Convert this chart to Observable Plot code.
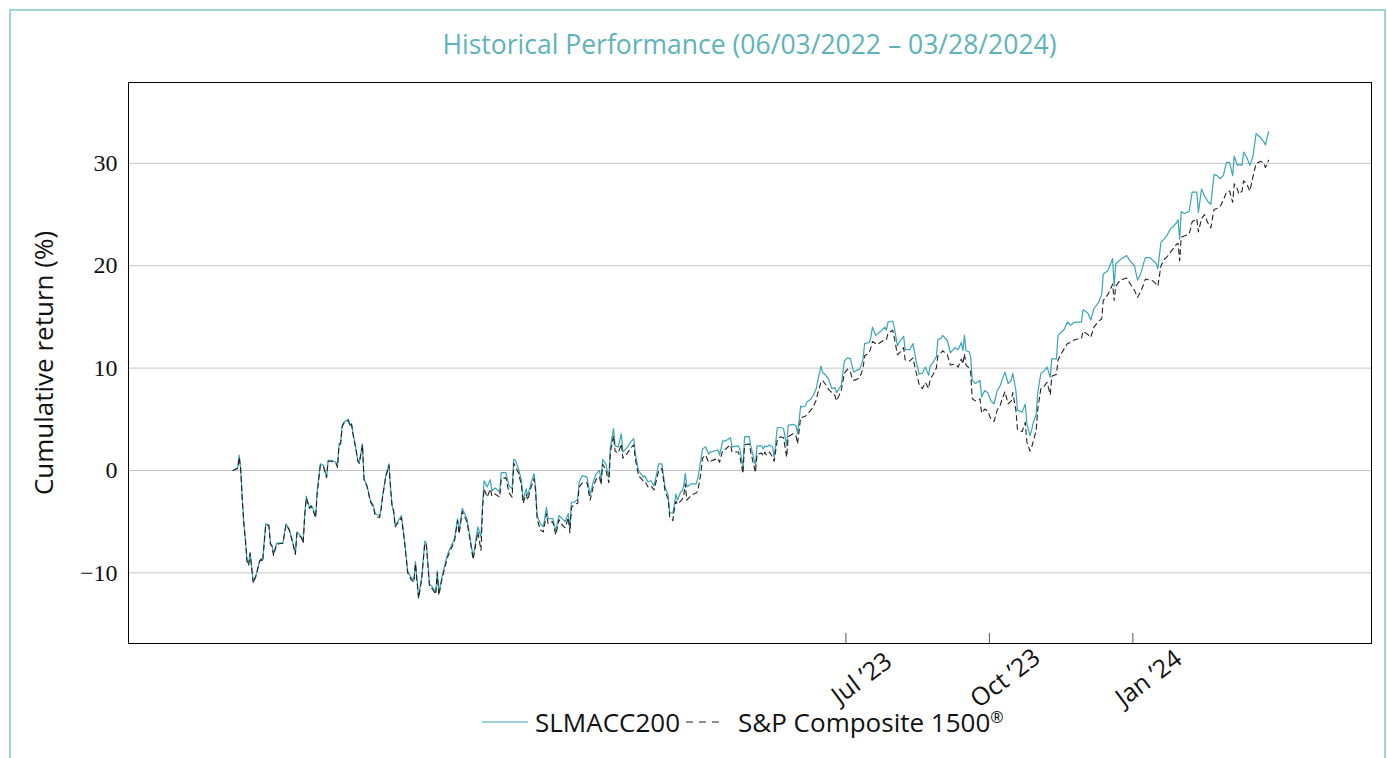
<!DOCTYPE html>
<html><head><meta charset="utf-8">
<script src="https://cdn.jsdelivr.net/npm/d3@7"></script>
<script src="https://cdn.jsdelivr.net/npm/@observablehq/plot@0.6"></script>
<style>
body{margin:0;background:#fff;width:1387px;height:758px;overflow:hidden;position:relative;font-family:"Open Sans",sans-serif;}
#box{position:absolute;left:9px;top:9px;width:1373px;height:800px;border:2px solid #9fd3d7;border-bottom:none;}
#title{position:absolute;left:128px;width:1243px;top:26px;text-align:center;font-size:26.5px;color:#5db3ba;line-height:36px;white-space:nowrap;}
#chart{position:absolute;left:0;top:60px;}
#ylabel{position:absolute;left:43px;top:363px;transform:translate(-50%,-50%) rotate(-90deg);font-size:26px;white-space:nowrap;color:#111;}
#legend{position:absolute;left:482px;top:704px;height:36px;display:flex;align-items:center;font-size:26px;color:#111;white-space:nowrap;}
#legend sup{font-size:16px;vertical-align:9px;}
</style>
</head><body>
<div id="box"></div>
<div id="title"></div>
<div id="ylabel"></div>
<div id="chart"></div>
<div id="legend"></div>
<script>
const titleText = "Historical Performance (06/03/2022 \u2013 03/28/2024)";
const yLabelText = "Cumulative return (%)";
const seriesNames = ["SLMACC200", "S&P Composite 1500"];
const startDate = "2022-06-03";
const yTicks = [-10, 0, 10, 20, 30];
const xTickDates = ["2023-07-01", "2023-10-01", "2024-01-01"];
const xTickLabels = ["Jul \u201923", "Oct \u201923", "Jan \u201924"];

// days since 2022-06-03
const dayOffsets = [0,3,4,5,6,7,8,9,10,11,13,15,17,18,19,21,23,24,25,26,28,32,34,36,38,40,41,44,45,46,47,49,50,51,53,54,56,58,60,61,63,66,67,68,69,70,71,74,75,76,77,79,80,81,83,84,86,88,90,91,92,94,95,96,98,100,101,102,103,104,108,110,112,114,116,117,119,121,123,124,126,128,130,131,132,134,137,138,142,144,145,147,150,152,154,157,159,160,161,163,165,166,168,171,172,175,177,179,180,181,183,185,186,188,189,191,193,194,195,197,199,201,202,205,207,209,211,213,215,216,217,219,221,222,224,227,229,231,233,235,236,237,239,241,242,244,245,247,249,250,253,255,257,258,260,263,264,266,268,270,273,275,277,279,280,282,283,284,285,287,288,289,290,291,294,297,298,300,301,303,305,306,311,312,314,316,318,319,320,324,325,327,328,331,332,335,336,339,340,341,342,344,346,347,349,351,353,355,356,359,361,362,364,365,367,368,370,372,374,375,377,378,380,382,384,386,387,390,392,394,396,397,398,400,402,404,405,408,409,410,412,413,416,418,419,420,423,424,426,428,430,431,434,436,438,440,442,444,446,447,449,451,452,454,455,458,460,463,465,467,468,469,470,472,473,474,476,479,480,482,484,486,488,490,492,493,495,497,499,500,502,503,506,508,509,511,512,513,515,516,518,520,522,524,525,528,529,531,533,535,537,540,544,545,548,550,552,555,557,558,561,562,564,565,566,569,573,575,578,580,582,584,585,588,590,592,593,595,597,599,601,602,605,606,607,608,610,613,614,615,618,619,621,623,625,627,629,631,633,635,637,639,641,642,644,645,647,648,650,652,654,656,659,661,662,664];

const slmacc = [0.0,0.3,1.5,0.0,-2.9,-5.2,-6.8,-8.8,-9.1,-8.0,-10.9,-10.1,-8.8,-8.6,-8.8,-5.2,-5.3,-7.1,-7.3,-8.2,-7.1,-7.1,-5.2,-5.7,-6.8,-8.1,-6.0,-6.5,-7.0,-4.2,-2.5,-3.6,-3.4,-3.6,-4.5,-2.0,0.65,0.5,-0.6,1.0,1.0,0.8,0.4,2.6,2.7,4.4,4.7,5.0,4.4,4.6,3.6,2.0,1.0,0.8,2.6,-0.8,-1.5,-2.9,-3.4,-4.1,-4.3,-4.4,-3.6,-2.4,-0.5,0.65,-1.6,-3.4,-3.9,-5.4,-4.4,-6.8,-9.8,-10.4,-10.7,-8.9,-12.4,-10.4,-6.9,-7.1,-11.1,-11.4,-11.9,-9.8,-11.9,-10.4,-8.5,-8.0,-6.7,-4.7,-6.0,-3.7,-4.7,-6.5,-8.5,-5.5,-6.5,-3.3,-1.0,-1.6,-0.9,-2.0,-1.7,-2.1,-0.2,-0.2,-1.5,-1.8,1.1,1.0,0.2,-1.0,-2.9,-1.8,-2.4,-1.3,-0.3,-1.6,-4.4,-5.2,-5.5,-3.6,-4.7,-4.7,-5.9,-4.4,-4.7,-5.0,-4.2,-5.7,-3.1,-3.1,-2.8,-1.1,-0.5,-0.65,-2.4,-1.1,-0.3,0.0,-1.0,1.1,0.65,-0.65,2.3,4.1,2.4,2.3,3.6,1.8,2.3,2.8,3.1,1.6,0.0,-0.65,-0.5,-1.1,-1.0,-1.5,0.65,0.65,-1.6,-2.4,-4.1,-4.2,-3.3,-2.3,-2.9,-2.1,-2.0,-1.5,-0.3,-1.6,-1.3,-1.3,-0.8,1.0,2.1,2.3,1.6,1.8,2.0,1.5,2.9,2.9,3.1,3.2,2.3,2.4,2.1,0.3,3.3,3.3,2.4,0.5,2.4,2.4,2.1,2.4,2.3,2.5,2.3,1.3,4.2,4.2,4.1,2.4,4.4,4.5,4.4,3.6,6.3,6.2,6.3,6.7,6.9,7.3,8.0,8.8,10.2,9.6,9.3,8.9,8.0,8.1,7.6,8.3,10.7,11.0,10.9,10.2,9.6,9.8,9.9,10.9,12.4,12.5,13.0,14.0,13.2,13.3,13.7,14.0,13.7,14.5,14.6,14.0,12.2,12.7,13.1,11.8,11.8,12.4,10.7,9.4,9.5,10.1,9.3,10.2,10.6,11.1,12.8,12.9,13.2,12.7,11.5,12.0,11.8,12.5,11.7,13.2,11.7,11.6,11.1,8.8,8.5,8.8,7.2,7.8,7.6,6.8,6.5,7.8,8.3,8.8,9.6,8.5,8.8,9.5,7.8,5.9,5.7,6.5,4.6,3.4,3.9,4.6,5.5,7.6,9.5,9.7,10.1,9.1,10.9,10.9,13.2,13.5,13.8,14.5,14.2,14.5,14.5,15.7,15.4,14.7,15.8,16.4,17.2,19.2,19.5,19.9,20.7,18.0,20.2,20.6,21.0,20.5,20.0,18.6,19.2,20.3,20.8,20.8,20.5,20.2,19.7,22.3,22.6,23.0,23.6,23.7,24.2,24.5,22.6,25.3,25.1,25.3,26.2,27.2,27.2,25.2,27.5,26.8,26.3,26.0,28.9,28.8,28.5,28.8,30.1,30.1,28.8,30.7,29.8,29.9,29.8,31.1,30.6,29.8,30.7,32.9,32.5,32.1,31.8,33.1];

const sp1500 = [0.0,0.2,1.3,0.0,-3.0,-5.3,-6.9,-8.9,-9.3,-8.1,-11.0,-10.2,-8.9,-8.7,-8.9,-5.3,-5.4,-7.2,-7.4,-8.3,-7.2,-7.1,-5.3,-5.8,-6.9,-8.2,-6.1,-6.6,-7.1,-4.4,-2.7,-3.7,-3.5,-3.8,-4.6,-2.2,0.5,0.4,-0.7,0.9,0.9,0.7,0.3,2.5,2.6,4.3,4.6,4.9,4.3,4.5,3.5,1.9,0.9,0.7,2.5,-0.9,-1.6,-3.0,-3.6,-4.3,-4.5,-4.6,-3.8,-2.5,-0.6,0.5,-1.7,-3.5,-4.0,-5.5,-4.6,-7.0,-10.0,-10.6,-10.9,-9.1,-12.5,-10.6,-7.1,-7.3,-11.3,-11.6,-12.1,-10.0,-12.2,-10.6,-8.8,-8.3,-6.9,-4.9,-6.2,-4.0,-5.0,-6.8,-8.7,-6.0,-7.8,-3.8,-1.8,-2.6,-1.8,-2.5,-2.3,-2.6,-0.8,-0.7,-2.2,-2.6,0.7,0.4,-0.2,-1.5,-3.2,-2.3,-2.9,-1.7,-0.8,-2.0,-4.7,-5.8,-6.0,-4.2,-5.2,-5.0,-6.3,-4.8,-5.3,-5.6,-4.6,-6.1,-3.6,-3.3,-3.2,-1.6,-1.2,-1.2,-2.9,-1.6,-0.8,-0.6,-1.4,0.6,0.1,-1.2,1.8,3.4,1.9,1.7,2.6,1.2,1.7,2.2,2.5,1.1,-0.5,-1.0,-1.0,-1.6,-1.5,-1.9,0.0,0.2,-2.0,-2.8,-4.5,-4.9,-3.8,-3.0,-3.3,-3.0,-2.8,-2.5,-1.3,-2.9,-2.4,-2.2,-2.0,-0.3,1.2,1.5,0.8,0.9,1.2,0.8,2.0,2.1,2.4,2.5,1.8,1.8,1.4,-0.3,2.5,2.6,1.8,-0.2,1.6,1.7,1.4,1.8,1.5,1.8,1.3,0.9,3.0,3.3,3.2,1.3,3.3,3.6,3.4,2.6,5.2,5.2,5.3,5.5,5.8,6.2,6.9,7.6,8.6,8.8,8.4,7.9,7.6,7.3,6.8,7.8,9.5,9.9,9.6,9.0,8.8,8.9,9.1,10.0,11.2,11.5,12.0,12.6,12.4,12.3,12.6,12.8,12.8,13.4,13.7,13.0,11.3,11.6,12.0,10.8,10.7,11.0,9.6,8.4,8.0,8.6,8.0,8.9,9.4,10.0,11.2,11.5,11.7,11.3,10.3,10.4,10.1,10.9,10.4,11.4,10.3,10.0,9.6,7.0,6.8,7.0,5.6,6.0,5.8,5.0,4.8,5.9,6.4,6.9,7.7,6.5,6.8,7.6,5.9,4.0,3.8,4.7,2.8,1.9,2.2,2.8,3.9,6.0,8.0,8.2,8.6,7.4,9.2,9.4,10.8,11.4,11.9,12.4,12.5,12.8,12.9,13.6,13.3,13.0,14.0,14.6,14.8,16.6,17.2,17.5,18.2,16.6,18.0,18.6,18.8,18.3,17.6,16.9,17.5,18.2,18.7,18.6,18.5,18.2,18.0,20.0,20.6,20.9,21.3,21.5,22.1,22.2,20.5,22.8,22.9,23.1,23.6,24.3,24.6,23.3,24.6,25.0,24.2,23.7,25.5,25.6,25.8,26.4,27.2,27.3,26.2,28.0,27.5,27.0,27.3,28.3,28.0,27.3,28.7,30.0,30.2,30.0,29.6,30.3];

const teal = "#39a5b7";
const start = new Date(startDate + "T00:00:00Z");
const slData = dayOffsets.map((d, i) => ({date: d3.utcDay.offset(start, d), value: slmacc[i]}));
const spData = dayOffsets.map((d, i) => ({date: d3.utcDay.offset(start, d), value: sp1500[i]}));
const xTicks = xTickDates.map(s => new Date(s + "T00:00:00Z"));

document.getElementById("title").textContent = titleText;
document.getElementById("ylabel").textContent = yLabelText;

const chart = Plot.plot({
  width: 1387, height: 650,
  marginLeft: 128, marginRight: 16, marginTop: 22, marginBottom: 67,
  x: {type: "utc", domain: [new Date("2022-03-28T00:00:00Z"), new Date("2024-06-02T00:00:00Z")], axis: null},
  y: {domain: [-16.9, 37.9], axis: null},
  style: {background: "transparent", overflow: "visible"},
  marks: [
    Plot.gridY(yTicks, {stroke: "#c4c4c4", strokeOpacity: 1, strokeWidth: 1}),
    Plot.axisY(yTicks, {tickSize: 0, tickPadding: 11, tickFormat: d => d < 0 ? "\u2212" + Math.abs(d) : String(d), fontSize: 24, fontFamily: "Liberation Serif", fill: "#111", label: null}),
    Plot.tickX(xTicks, {x: d => d, insetTop: 551, stroke: "#555", strokeWidth: 1}),
    Plot.text(xTicks, {x: d => d, text: (d, i) => xTickLabels[i], frameAnchor: "bottom", dx: 16, dy: 35, rotate: -37, fontSize: 25, fontFamily: "Open Sans", fill: "#111", textAnchor: "middle", lineAnchor: "middle"}),
    Plot.line(slData, {x: "date", y: "value", stroke: teal, strokeWidth: 1.2}),
    Plot.line(spData, {x: "date", y: "value", stroke: "#222", strokeWidth: 1.1, strokeDasharray: "5,4"}),
    Plot.frame({stroke: "#000", strokeWidth: 1})
  ]
});
document.getElementById("chart").appendChild(chart);

const legend = document.getElementById("legend");
legend.innerHTML =
  `<svg width="46" height="10" style="margin-right:7px"><line x1="0" x2="46" y1="5" y2="5" stroke="${teal}" stroke-width="1.2"/></svg>` +
  `<span>${seriesNames[0]}</span>` +
  `<svg width="38" height="10" style="margin-left:5px;margin-right:15px"><line x1="1" x2="38" y1="5" y2="5" stroke="#222" stroke-width="1.1" stroke-dasharray="7,6"/></svg>` +
  `<span>${seriesNames[1].replace("&", "&amp;")}<sup>\u00AE</sup></span>`;
</script>
</body></html>
